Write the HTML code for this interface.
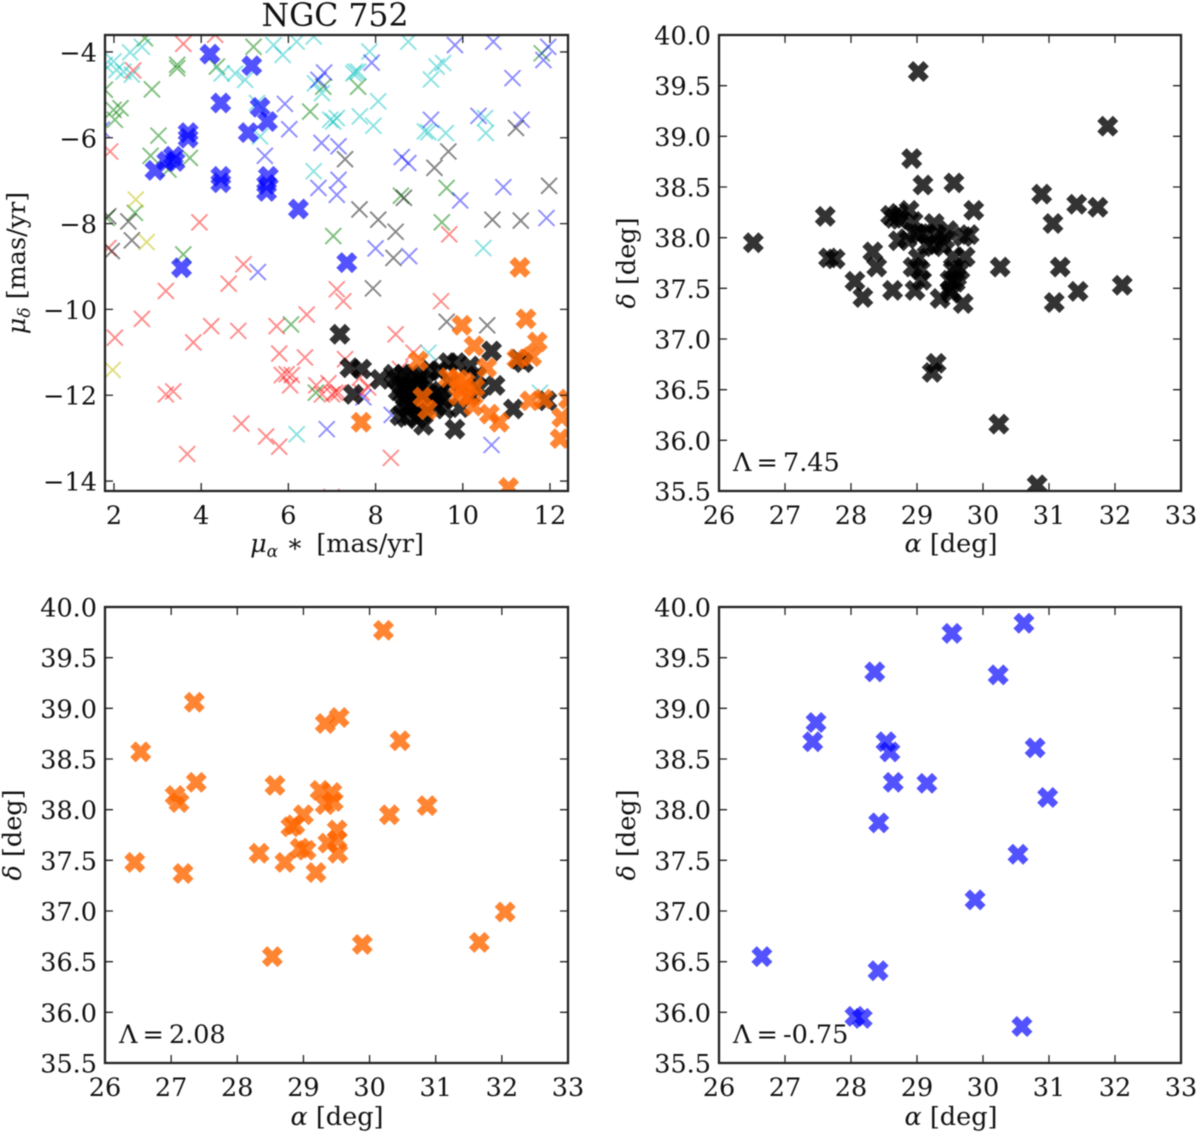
<!DOCTYPE html>
<html lang="en">
<head>
<meta charset="utf-8">
<title>NGC 752</title>
<style>
html,body{margin:0;padding:0;background:#fff;}
#figure{display:block;width:1200px;height:1134px;filter:blur(0.55px);}
text{font-family:"DejaVu Serif","Liberation Serif",serif;fill:#111;}
</style>
</head>
<body>
<svg id="figure" xmlns="http://www.w3.org/2000/svg" width="1200" height="1134" viewBox="0 0 1200 1134"></svg>
<script>
// ---------- tick labels ----------
const pmXTicks = [2, 4, 6, 8, 10, 12];
const pmYTicks = [-4, -6, -8, -10, -12, -14];
const skyXTicks = [26, 27, 28, 29, 30, 31, 32, 33];
const skyYTicks = [40.0, 39.5, 39.0, 38.5, 38.0, 37.5, 37.0, 36.5, 36.0, 35.5];

// ---------- proper-motion panel: background thin crosses ----------
const redPmRa = [3.59,4.32,2.44,1.91,3.96,1.87,9.69,4.97,4.63,3.19,2.64,2.02,3.82,4.23,4.85,5.73,6.42,5.79,6.38,7.11,5.85,6.08,5.96,6.04,3.19,3.36,4.92,5.49,5.79,3.68,6.64,6.92,6.77,7.00,7.15,7.26,9.50,8.46,8.87,7.30,8.56,7.64,7.83,7.68,7.07,8.35,6.99];
const redPmDec = [-3.81,-3.60,-4.43,-6.32,-7.97,-8.57,-8.25,-8.95,-9.40,-9.57,-10.22,-10.66,-10.77,-10.39,-10.50,-10.39,-10.12,-11.03,-11.12,-9.53,-11.53,-11.53,-11.51,-11.77,-11.98,-11.91,-12.66,-12.96,-13.20,-13.37,-11.77,-11.72,-11.98,-11.98,-11.94,-9.81,-9.81,-10.58,-11.01,-11.16,-11.39,-11.59,-11.82,-11.94,-11.94,-13.46,-14.37];
const greenPmRa = [2.71,5.20,3.45,3.45,2.87,1.79,2.15,1.99,2.02,3.02,2.84,3.74,4.36,6.50,2.48,3.59,7.03,6.80,3.25,1.83,7.60,11.81,8.58,9.63,9.52,6.06,6.63];
const greenPmDec = [-3.68,-3.88,-4.30,-4.38,-4.87,-4.88,-5.31,-5.35,-5.58,-5.95,-6.42,-6.47,-4.34,-5.39,-7.75,-8.72,-8.29,-4.81,-6.74,-7.87,-4.81,-4.03,-7.35,-7.17,-7.97,-10.35,-11.94];
const cyanPmRa = [2.37,2.64,1.99,1.79,2.22,2.41,2.06,4.47,4.78,5.01,5.66,5.87,5.28,5.35,6.19,6.58,6.61,6.77,6.96,7.11,6.58,8.75,7.86,7.53,7.60,7.49,8.06,7.64,7.95,7.03,9.55,9.40,9.27,9.13,9.21,9.61,10.51,10.53,10.47,6.19,9.21,11.77];
const cyanPmDec = [-4.01,-3.88,-4.22,-4.30,-4.46,-4.53,-4.42,-4.50,-4.50,-4.65,-3.84,-4.07,-5.19,-5.97,-3.76,-3.64,-4.73,-4.96,-5.58,-5.54,-6.78,-3.76,-3.99,-4.46,-4.46,-4.50,-5.15,-5.50,-5.72,-5.62,-4.26,-4.34,-4.64,-5.85,-5.87,-5.89,-5.54,-5.89,-8.57,-12.91,-11.01,-11.94];
const bluePmRa = [5.92,6.02,6.82,5.46,6.76,7.15,6.69,7.15,7.11,5.30,6.69,1.72,9.82,10.70,7.91,11.96,11.85,11.14,10.36,11.35,9.27,8.60,8.75,10.93,9.94,11.92,8.00,8.77,6.88,7.72,8.37,10.66];
const bluePmDec = [-5.21,-5.80,-4.48,-6.42,-6.12,-6.20,-7.17,-6.98,-7.33,-9.13,-4.65,-5.81,-3.84,-3.76,-4.25,-3.88,-4.19,-4.61,-5.49,-5.58,-5.58,-6.45,-6.59,-7.15,-7.46,-7.87,-8.58,-8.76,-12.79,-12.05,-12.46,-13.16];
const grayPmRa = [1.87,2.33,2.41,1.95,7.30,9.67,9.35,11.22,11.98,8.65,7.63,8.06,8.46,10.68,11.33,8.41,9.63,10.56,9.25,7.94];
const grayPmDec = [-7.83,-7.95,-8.39,-8.64,-6.50,-6.32,-6.70,-5.77,-7.12,-7.40,-7.67,-7.91,-8.19,-7.91,-7.93,-8.80,-10.29,-10.37,-11.32,-9.51];
const yellowPmRa = [2.50,2.75,1.97];
const yellowPmDec = [-7.44,-8.43,-11.41];

// ---------- proper-motion panel: selected groups ----------
const blackPmRa = [7.18,7.41,7.68,8.10,7.49,10.66,11.28,11.39,9.86,9.67,10.17,10.74,11.16,9.82,11.93,8.71,9.10,8.56,8.48,8.64,8.83,9.02,9.17,8.60,8.79,8.98,8.68,8.87,9.25,9.40,9.55,8.75,9.40,9.59,9.94,9.44,9.71,10.17,10.36,10.32,9.25,8.94,8.94,8.41,9.13,8.52,8.72,8.92,9.05,8.62,8.85,9.08,8.95,9.30,9.50];
const blackPmDec = [-10.58,-11.36,-11.39,-11.63,-11.98,-10.97,-11.16,-11.24,-11.24,-11.24,-11.32,-11.77,-12.32,-12.79,-12.13,-12.52,-12.70,-12.48,-11.63,-11.51,-11.51,-11.59,-11.70,-11.78,-11.78,-11.82,-12.05,-12.05,-11.98,-12.01,-12.09,-12.32,-12.25,-12.32,-12.29,-11.43,-11.70,-12.01,-11.86,-11.55,-11.43,-12.29,-11.63,-11.51,-12.17,-11.90,-11.92,-11.95,-12.10,-12.20,-12.22,-12.42,-12.55,-12.15,-11.90];
const orangePmRa = [9.98,11.45,10.26,11.71,8.98,10.55,11.24,11.58,9.67,9.90,10.05,9.98,10.28,10.24,9.08,9.19,10.61,10.84,11.54,11.85,12.27,12.23,11.05,7.67,9.90,10.13,12.42,11.31];
const orangePmDec = [-10.37,-10.22,-10.85,-10.76,-11.20,-11.36,-11.15,-11.10,-11.59,-11.63,-11.70,-11.86,-11.82,-12.25,-12.04,-12.34,-12.44,-12.63,-12.13,-12.09,-12.52,-13.01,-14.15,-12.63,-12.01,-12.05,-12.09,-9.02];
const thickBluePmRa = [4.20,5.16,4.45,5.35,5.52,5.08,3.70,3.70,2.94,3.21,3.36,3.40,4.45,4.45,5.54,5.50,5.50,6.23,3.55,7.34];
const thickBluePmDec = [-4.05,-4.32,-5.19,-5.29,-5.62,-5.88,-5.88,-6.01,-6.76,-6.55,-6.43,-6.55,-6.90,-7.05,-6.90,-7.25,-7.09,-7.66,-9.03,-8.91];

// ---------- sky-position panels ----------
const blackSkyRa = [26.52,29.02,31.89,28.92,29.09,29.56,30.89,31.06,31.42,31.74,29.86,27.61,27.66,27.76,28.06,28.18,28.33,28.39,28.63,28.97,28.60,28.72,28.65,28.74,28.88,28.94,28.72,28.85,29.05,29.15,29.26,29.30,29.47,29.42,29.25,29.37,29.15,28.99,29.79,29.70,29.73,29.55,29.02,28.94,29.05,29.07,29.60,29.65,29.55,29.50,29.50,29.35,29.70,29.58,29.52,30.26,31.17,31.44,31.08,32.11,29.29,29.23,30.24,30.82];
const blackSkyDec = [37.95,39.64,39.10,38.78,38.52,38.54,38.43,38.14,38.33,38.30,38.27,38.21,37.80,37.79,37.57,37.41,37.86,37.71,37.48,37.48,38.22,38.24,38.19,38.18,38.27,38.16,37.97,37.99,38.04,38.04,38.14,38.03,38.07,37.98,37.91,37.93,37.93,38.04,38.03,38.01,37.81,37.81,37.80,37.71,37.68,37.58,37.61,37.68,37.68,37.58,37.48,37.40,37.35,37.56,37.45,37.71,37.71,37.47,37.36,37.53,36.76,36.67,36.16,35.56];
const orangeSkyRa = [30.21,27.35,26.54,27.38,27.06,27.12,26.45,27.18,28.57,29.33,29.54,30.46,30.30,30.87,28.33,28.72,29.19,28.81,28.87,29.00,29.25,29.43,29.33,29.45,28.95,29.04,29.37,29.51,29.51,29.52,28.53,29.89,31.66,32.05];
const orangeSkyDec = [39.77,39.06,38.57,38.27,38.14,38.07,37.48,37.37,38.24,38.85,38.91,38.68,37.95,38.04,37.57,37.48,37.38,37.83,37.85,37.95,38.19,38.17,38.05,38.08,37.62,37.60,37.67,37.80,37.70,37.57,36.55,36.67,36.69,36.99];
const blueSkyRa = [30.62,29.53,30.23,28.36,27.47,27.42,28.53,28.59,28.64,29.15,30.79,30.98,28.42,30.53,29.88,26.65,28.41,28.06,28.17,30.59];
const blueSkyDec = [39.84,39.74,39.33,39.36,38.86,38.67,38.67,38.57,38.27,38.26,38.61,38.12,37.87,37.56,37.11,36.55,36.41,35.96,35.94,35.86];

// ---------- helpers ----------
const svgNS = 'http://www.w3.org/2000/svg';
const fig = document.getElementById('figure');

function mk(tag, attrs, parent) {
  const el = document.createElementNS(svgNS, tag);
  for (const k in attrs) el.setAttribute(k, attrs[k]);
  (parent || fig).appendChild(el);
  return el;
}
function linearScale(d0, d1, r0, r1) {
  return v => r0 + (v - d0) * (r1 - r0) / (d1 - d0);
}

function drawAxes(cfg) {
  const g = mk('g', {});
  
  
  const sx = linearScale(cfg.xDomain[0], cfg.xDomain[1], cfg.left, cfg.right);
  const sy = linearScale(cfg.yDomain[0], cfg.yDomain[1], cfg.bottom, cfg.top);
  const clip = mk('clipPath', {id: cfg.name + '-clip'}, g);
  mk('rect', {x: cfg.left, y: cfg.top, width: cfg.right - cfg.left, height: cfg.bottom - cfg.top}, clip);
  const marks = mk('g', {'clip-path': 'url(#' + cfg.name + '-clip)'}, g);
  
  
  const axisG = mk('g', {}, g);
  
  
  mk('rect', {x: cfg.left, y: cfg.top, width: cfg.right - cfg.left, height: cfg.bottom - cfg.top, fill: 'none', stroke: '#222', 'stroke-width': 2.3}, axisG);
  cfg.xTicks.forEach(t => {
    const x = sx(t);
    mk('path', {d: `M${x},${cfg.bottom}v-8M${x},${cfg.top}v8`, stroke: '#222', 'stroke-width': 1.3, fill: 'none'}, axisG);
    const lab = mk('text', {x: x, y: cfg.bottom + 33, 'text-anchor': 'middle', 'font-size': 25.5}, axisG);
    lab.textContent = String(t);
    
    
  });
  cfg.yTicks.forEach(t => {
    const y = sy(t);
    mk('path', {d: `M${cfg.left},${y}h8M${cfg.right},${y}h-8`, stroke: '#222', 'stroke-width': 1.3, fill: 'none'}, axisG);
    const lab = mk('text', {x: cfg.left - 8, y: y + 9.5, 'text-anchor': 'end', 'font-size': 25.5}, axisG);
    lab.textContent = cfg.yFormat(t);
    
    
  });
  return {marks, sx, sy, g};
}

function drawSeries(ax, xs, ys, name, color, alpha, half, width) {
  const g = mk('g', {}, ax.marks);
  
  
  xs.forEach((v, i) => {
    const x = ax.sx(v), y = ax.sy(ys[i]);
    const d = `M${x - half},${y - half}L${x + half},${y + half}M${x - half},${y + half}L${x + half},${y - half}`;
    const m = mk('path', {d: d, fill: 'none', stroke: color, 'stroke-width': width, opacity: alpha}, g);
    
    
  });
}

function addXLabel(parent, cx, y, sym, sub, rest) {
  const t = mk('text', {x: cx, y: y, 'text-anchor': 'middle', 'font-size': 25.5}, parent);
  
  
  fillLabel(t, sym, sub, rest);
}
function addYLabel(parent, x, cy, sym, sub, rest) {
  const t = mk('text', {x: 0, y: 0, 'text-anchor': 'middle', 'font-size': 25.5, transform: `translate(${x},${cy}) rotate(-90)`}, parent);
  
  
  fillLabel(t, sym, sub, rest);
}
function fillLabel(t, sym, sub, rest) {
  const a = mk('tspan', {'font-style': 'italic'}, t);
  a.textContent = sym;
  if (sub) {
    const s = mk('tspan', {'font-style': 'italic', 'font-size': 17, dy: 5}, t);
    s.textContent = sub;
    const r = mk('tspan', {dy: -5}, t);
    r.textContent = rest;
  } else {
    const r = mk('tspan', {}, t);
    r.textContent = rest;
  }
}
function addAnnotation(parent, x, y, text) {
  const t = mk('text', {x: x, y: y, 'font-size': 25.5}, parent);
  t.textContent = text;
  
  
}

const fmtInt = v => (v < 0 ? '\u2212' + Math.abs(v) : String(v));
const fmtOne = v => v.toFixed(1);
const THIN = 8, THIN_W = 1.9, THICK = 7.8, THICK_W = 7.6;

// ---------- proper-motion panel ----------
const axPm = drawAxes({name: 'proper-motion-panel', left: 105, right: 568, top: 35, bottom: 491,
  xDomain: [1.794, 12.413], yDomain: [-14.232, -3.605], xTicks: pmXTicks, yTicks: pmYTicks, yFormat: fmtInt});
drawSeries(axPm, redPmRa, redPmDec, 'red-field-stars', '#ff0000', 0.45, THIN, THIN_W);
drawSeries(axPm, greenPmRa, greenPmDec, 'green-field-stars', '#008000', 0.5, THIN, THIN_W);
drawSeries(axPm, cyanPmRa, cyanPmDec, 'cyan-field-stars', '#00bfbf', 0.45, THIN, THIN_W);
drawSeries(axPm, bluePmRa, bluePmDec, 'blue-field-stars', '#0000ff', 0.45, THIN, THIN_W);
drawSeries(axPm, grayPmRa, grayPmDec, 'gray-field-stars', '#000000', 0.48, THIN, THIN_W);
drawSeries(axPm, yellowPmRa, yellowPmDec, 'yellow-field-stars', '#bfbf00', 0.5, THIN, THIN_W);
drawSeries(axPm, thickBluePmRa, thickBluePmDec, 'blue-group', '#0000ff', 0.68, THICK, THICK_W);
drawSeries(axPm, blackPmRa, blackPmDec, 'black-group', '#000000', 0.8, THICK, THICK_W);
drawSeries(axPm, orangePmRa, orangePmDec, 'orange-group', '#ff6600', 0.8, THICK, THICK_W);
addXLabel(axPm.g, 337, 552, '\u03BC', '\u03B1', ' \u2217\u2002[mas/yr]');
addYLabel(axPm.g, 25, 263, '\u03BC', '\u03B4', ' [mas/yr]');
const title = mk('text', {x: 335, y: 26, 'text-anchor': 'middle', 'font-size': 31.5});
title.textContent = 'NGC 752';



// ---------- sky panels ----------
const axBlack = drawAxes({name: 'black-sky-panel', left: 719, right: 1181, top: 35, bottom: 491,
  xDomain: [26, 33], yDomain: [35.5, 40], xTicks: skyXTicks, yTicks: skyYTicks, yFormat: fmtOne});
drawSeries(axBlack, blackSkyRa, blackSkyDec, 'black-group-sky', '#000000', 0.8, THICK, THICK_W);
addXLabel(axBlack.g, 951, 552, '\u03B1', null, ' [deg]');
addYLabel(axBlack.g, 635, 263, '\u03B4', null, ' [deg]');
addAnnotation(axBlack.g, 733, 471, '\u039B\u2009=\u20097.45');

const axOrange = drawAxes({name: 'orange-sky-panel', left: 105, right: 568, top: 607, bottom: 1063,
  xDomain: [26, 33], yDomain: [35.5, 40], xTicks: skyXTicks, yTicks: skyYTicks, yFormat: fmtOne});
drawSeries(axOrange, orangeSkyRa, orangeSkyDec, 'orange-group-sky', '#ff6600', 0.8, THICK, THICK_W);
addXLabel(axOrange.g, 337, 1125, '\u03B1', null, ' [deg]');
addYLabel(axOrange.g, 21, 835, '\u03B4', null, ' [deg]');
addAnnotation(axOrange.g, 119, 1043, '\u039B\u2009=\u20092.08');

const axBlue = drawAxes({name: 'blue-sky-panel', left: 719, right: 1181, top: 607, bottom: 1063,
  xDomain: [26, 33], yDomain: [35.5, 40], xTicks: skyXTicks, yTicks: skyYTicks, yFormat: fmtOne});
drawSeries(axBlue, blueSkyRa, blueSkyDec, 'blue-group-sky', '#0000ff', 0.68, THICK, THICK_W);
addXLabel(axBlue.g, 951, 1125, '\u03B1', null, ' [deg]');
addYLabel(axBlue.g, 635, 835, '\u03B4', null, ' [deg]');
addAnnotation(axBlue.g, 733, 1043, '\u039B\u2009=\u2009-0.75');
</script>
</body>
</html>
